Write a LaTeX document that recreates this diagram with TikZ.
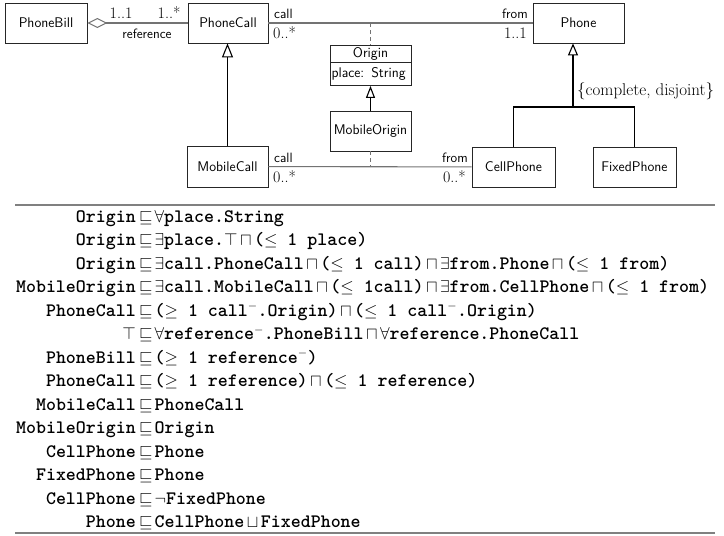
\documentclass[tikz,border=0pt]{standalone}
\usepackage{fontspec}
\usetikzlibrary{arrows.meta}
\newfontfamily\tabtt{lmmonolt10-bold}[Extension=.otf]
\newcommand\mm[1]{{\fontsize{17}{17}\selectfont$#1$}}
\newcommand\cp{\kern2.5pt\mm{\sqcap}\kern2.5pt}
\tikzset{
  cls/.style={draw=black!85, line width=0.8pt, minimum width=81pt, minimum height=40pt,
    inner sep=0pt, font=\sffamily\fontsize{14}{16}\selectfont},
  lbl/.style={inner sep=0pt, font=\sffamily\fontsize{13.5}{15}\selectfont},
  mult/.style={inner sep=0pt, font=\fontsize{16}{18}\selectfont},
  assoc/.style={draw=black!55, line width=1.1pt},
  dep/.style={draw=black!55, line width=0.9pt, dash pattern=on 4pt off 3pt},
  gen/.style={draw=black, line width=1.2pt},
  ax/.style={inner sep=0pt, font=\tabtt\fontsize{19}{23.5}\selectfont},
  tabrule/.style={draw=black!50, line width=2pt}
}
\begin{document}
\begin{tikzpicture}[x=1pt,y=-1pt]
\useasboundingbox (0,0) rectangle (724,536);
% classes
\node[cls, minimum width=82pt] (pb) at (46,23) {PhoneBill};
\node[cls, minimum width=80pt] (pc) at (228,23) {PhoneCall};
\node[cls, minimum width=91pt] (ph) at (578.5,23) {Phone};
\node[cls, minimum height=17pt] (ot) at (370.5,53.5) {Origin};
\node[cls, minimum height=23pt, text width=78pt, align=left] (oa) at (370.5,74) {place: String};
\node[cls] (mo) at (370.5,131) {MobileOrigin};
\node[cls, minimum height=41pt] (mc) at (227.5,166.5) {MobileCall};
\node[cls, minimum width=83pt] (cpn) at (513.5,167) {CellPhone};
\node[cls, minimum width=83pt] (fp) at (634.5,167) {FixedPhone};
% aggregation
\draw[assoc, {Diamond[open,length=20pt,width=10pt,line width=1pt]}-] (pb) -- (pc);
\node[mult, anchor=base] (m1) at (121,18.5) {1..1};
\node[mult, anchor=base] (m2) at (169,18.5) {1..*};
\node[lbl, anchor=base] (rf) at (147,38.5) {reference};
% association call/from
\draw[assoc] (pc) -- (ph);
\node[lbl, anchor=base west] (c1) at (274,18.5) {call};
\node[mult, anchor=base west] (c1m) at (273,38) {0..*};
\node[lbl, anchor=base east] (f1) at (528,18.5) {from};
\node[mult, anchor=base east] (f1m) at (527,38) {1..1};
\draw[assoc] (mc) -- (cpn);
\node[lbl, anchor=base west] (c2) at (274,162) {call};
\node[mult, anchor=base west] (c2m) at (273,182) {0..*};
\node[lbl, anchor=base east] (f2) at (468,162) {from};
\node[mult, anchor=base east] (f2m) at (466,182) {0..*};
% association classes (dashed)
\coordinate (d1) at (370.5,23);
\coordinate (d2) at (370.5,167);
\draw[dep] (d1) -- (ot.north);
\draw[dep] (mo.south) -- (d2);
% generalizations
\draw[gen, -{Triangle[open,length=14pt,width=11pt,line width=1.1pt]}] (mc.north) -- (mc.north |- pc.south);
\draw[gen, -{Triangle[open,length=12pt,width=9pt,line width=1.1pt]}] (mo.north) -- (oa.south);
\coordinate (j) at (573,107);
\draw[gen, -{Triangle[open,length=12pt,width=10pt,line width=1.1pt]}] (j) -- (j |- ph.south);
\draw[gen] (cpn.north) -- (cpn.north |- j) -- (fp.north |- j) -- (fp.north);
\node[mult, font=\fontsize{17}{19}\selectfont, anchor=base west] (cd) at (577,95) {\{complete, disjoint\}};
% axioms table
\coordinate (t1) at (15,205);
\coordinate (t2) at (715,205);
\coordinate (b1) at (15,533);
\coordinate (b2) at (715,533);
\draw[tabrule] (t1) -- (t2);
\draw[tabrule] (b1) -- (b2);
\foreach \L/\R [count=\i] in {
  {Origin}/{\mm{\forall}place.String},
  {Origin}/{\mm{\exists}place.\mm{\top}\cp(\mm{\leq} 1 place)},
  {Origin}/{\mm{\exists}call.PhoneCall\cp(\mm{\leq} 1 call)\cp\mm{\exists}from.Phone\cp(\mm{\leq} 1 from)},
  {MobileOrigin}/{\mm{\exists}call.MobileCall\cp(\mm{\leq} 1call)\cp\mm{\exists}from.CellPhone\cp(\mm{\leq} 1 from)},
  {PhoneCall}/{(\mm{\geq} 1 call\mm{{}^{-}}.Origin)\cp(\mm{\leq} 1 call\mm{{}^{-}}.Origin)},
  {\mm{\top}}/{\mm{\forall}reference\mm{{}^{-}}.PhoneBill\cp\mm{\forall}reference.PhoneCall},
  {PhoneBill}/{(\mm{\geq} 1 reference\mm{{}^{-}})},
  {PhoneCall}/{(\mm{\geq} 1 reference)\cp(\mm{\leq} 1 reference)},
  {MobileCall}/{PhoneCall},
  {MobileOrigin}/{Origin},
  {CellPhone}/{Phone},
  {FixedPhone}/{Phone},
  {CellPhone}/{\mm{\neg}FixedPhone},
  {Phone}/{CellPhone\kern2.5pt\mm{\sqcup}\kern2.5pt FixedPhone}}
{
  \node[ax, anchor=base east] (l\i) at (136,{222+23.5*(\i-1)}) {\L};
  \node[ax, anchor=base west] (r\i) at (139,{222+23.5*(\i-1)}) {\mm{\sqsubseteq}\kern2pt\R};
}
\end{tikzpicture}
\end{document}
